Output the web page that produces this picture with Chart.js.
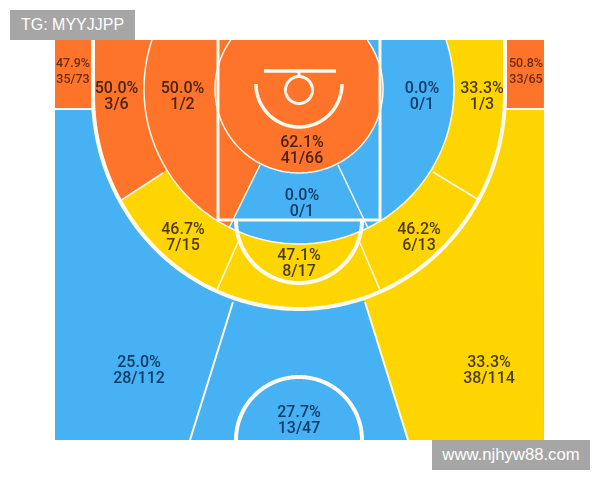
<!DOCTYPE html>
<html>
<head>
<meta charset="utf-8">
<script src="https://cdn.jsdelivr.net/npm/chart.js@4/dist/chart.umd.min.js"></script>
<style>
    html, body { margin: 0; padding: 0; background: #fff; }
    #wrap { position: relative; width: 600px; height: 480px; overflow: hidden; }
    canvas { display: block; }
    .tag {
        position: absolute; height: 30px; line-height: 30px; text-align: center;
        background: #a6a6a6; color: #fff; font: 16px/30px "Liberation Sans", sans-serif;
    }
</style>
</head>
<body>
<div id="wrap">
    <canvas id="shotChart" width="600" height="480"></canvas>
    <div class="tag" style="left:10px;top:10px;width:125px">TG: MYYJJPP</div>
    <div class="tag" style="left:432px;top:440px;width:158px;font-size:16.7px">www.njhyw88.com</div>
</div>
<script>
// Shooting by zone
const zones = ['leftCorner', 'rightCorner', 'leftWing3', 'leftWing2', 'rightWing2', 'rightWing3',
    'rim', 'paint', 'leftElbow', 'rightElbow', 'freeThrow', 'leftThree', 'rightThree', 'deep'];
const percents = [47.9, 50.8, 50.0, 50.0, 0.0, 33.3, 62.1, 0.0, 46.7, 46.2, 47.1, 25.0, 33.3, 27.7];
const made = [35, 33, 3, 1, 0, 1, 41, 0, 7, 6, 8, 28, 38, 13];
const attempts = [73, 65, 6, 2, 1, 3, 66, 1, 15, 13, 17, 112, 114, 47];

// Layout, in court units with the hoop at 0,0 and y growing towards half court
const labelX = [-226, 227, -182.5, -116.5, 123, 183, 3, 3, -116, 120, 0, -160, 190, 0];
const labelY = [-17, -17, 8, 8, 8, 8, 62, 115, 149, 149, 175, 282, 282, 332];
const labelInk = ['#6b2c12', '#6b2c12', '#4a2413', '#4a2413', '#0f3c68', '#4c3c10', '#4a2413',
    '#0f3c68', '#4c3c10', '#4c3c10', '#4c3c10', '#0f3c68', '#4c3c10', '#0f3c68'];

const ORANGE = '#ff742b', BLUE = '#46b1f3', YELLOW = '#ffd500', LINE = '#fffaf0';
const LEFT = -244, RIGHT = 245, TOP = -49, BOTTOM = 351;

function arc(cx, cy, rx, ry, fromDeg, toDeg) {
    const pts = [];
    const steps = Math.max(2, Math.ceil(Math.abs(toDeg - fromDeg) / 2));
    for (let i = 0; i <= steps; i++) {
        const a = (fromDeg + (toDeg - fromDeg) * i / steps) * Math.PI / 180;
        pts.push({ x: cx + rx * Math.cos(a), y: cy + ry * Math.sin(a) });
    }
    return pts;
}
function pts(...pairs) {
    return pairs.map(p => ({ x: p[0], y: p[1] }));
}
// a tiny tension keeps the line element off its integer-x fast path, which makes steep arcs jagged
function area(color, points) {
    return { data: points, showLine: true, fill: 'shape', backgroundColor: color,
        borderWidth: 0, borderColor: color, pointRadius: 0, tension: 0.001 };
}
function stroke(width, points) {
    return { data: points, showLine: true, fill: false, borderColor: LINE,
        borderWidth: width, pointRadius: 0, tension: 0.001 };
}

const threeArc = arc(0, 6, 206, 214, 180, 0);
const threeLine = pts([-206, TOP]).concat(threeArc, pts([206, TOP]));
const midClip = 18.4, rimClip = 35.7;

// Painted from the first to the last
const layers = [
    area(BLUE, pts([LEFT, TOP], [RIGHT, TOP], [RIGHT, BOTTOM], [LEFT, BOTTOM])),
    area(YELLOW, pts([0, TOP], [RIGHT, TOP], [RIGHT, BOTTOM], [109, BOTTOM], [66, 213], [0, 100])),
    area(ORANGE, pts([LEFT, TOP], [-206, TOP], [-206, 20], [LEFT, 20])),
    area(ORANGE, pts([206, TOP], [RIGHT, TOP], [RIGHT, 20], [206, 20])),
    area(YELLOW, threeLine),
    area(ORANGE, pts([-206, TOP]).concat(arc(0, 6, 206, 214, 180, 150.3), pts([-136, 84], [0, TOP]))),
    area(BLUE, arc(0, 0, 155, 155, 180 + midClip, -midClip)),
    area(ORANGE, arc(0, 0, 155, 155, 180 + midClip, 116.7).concat(pts([-39, 76], [-39, TOP]))),
    area(ORANGE, arc(0, 0, 84, 84, 180 + rimClip, -rimClip)),
    stroke(1.5, arc(0, 0, 155, 155, 180 + midClip, -midClip)),
    stroke(1.5, arc(0, 0, 84, 84, 180 + rimClip, -rimClip)),
    stroke(1.5, pts([-39, 76], [-70, 139])),
    stroke(1.5, pts([39, 76], [69, 139])),
    stroke(1.5, pts([-136, 84], [-179, 112])),
    stroke(1.5, pts([134, 83], [180, 111])),
    stroke(1.5, pts([-61, 153], [-82, 201])),
    stroke(1.5, pts([61, 154], [81, 201])),
    stroke(2, pts([-66, 213], [-109, BOTTOM])),
    stroke(2, pts([66, 213], [109, BOTTOM])),
    stroke(2, pts([LEFT, 20], [-206, 20])),
    stroke(2, pts([206, 20], [RIGHT, 20])),
    stroke(4, threeLine),
    stroke(3, pts([-81, TOP], [-81, 131], [81, 131], [81, TOP])),
    stroke(4, arc(0, 131, 63, 63, 180, 0)),
    stroke(4, arc(0, BOTTOM, 63, 63, 180, 360)),
    stroke(3.5, pts([-35, -18], [37, -18])),
    stroke(3, pts([0, -18], [0, -13])),
    stroke(3, arc(0, 1, 13.5, 13.5, 0, 360)),
    stroke(3.5, arc(0, -5, 43, 43, 180, 0))
];

const zoneText = {
    id: 'zoneText',
    afterDatasetsDraw(chart) {
        const { ctx, scales: { x, y } } = chart;
        ctx.save();
        ctx.textAlign = 'center';
        ctx.textBaseline = 'middle';
        zones.forEach((zone, i) => {
            const small = i < 2;
            ctx.font = small ? '500 12.5px Roboto' : '500 16px Roboto';
            ctx.fillStyle = labelInk[i];
            const px = x.getPixelForValue(labelX[i]);
            const py = y.getPixelForValue(labelY[i]);
            ctx.fillText(percents[i].toFixed(1) + '%', px, py - 8);
            ctx.fillText(made[i] + '/' + attempts[i], px, py + 8);
        });
        ctx.restore();
    }
};

new Chart(document.getElementById('shotChart'), {
    type: 'scatter',
    data: { datasets: layers.slice().reverse() },
    options: {
        responsive: false,
        animation: false,
        layout: { padding: 0 },
        plugins: { legend: { display: false }, tooltip: { enabled: false } },
        scales: {
            x: { type: 'linear', display: false, min: -299, max: 301 },
            y: { type: 'linear', display: false, min: -89, max: 391, reverse: true }
        }
    },
    plugins: [zoneText]
});
</script>
</body>
</html>
